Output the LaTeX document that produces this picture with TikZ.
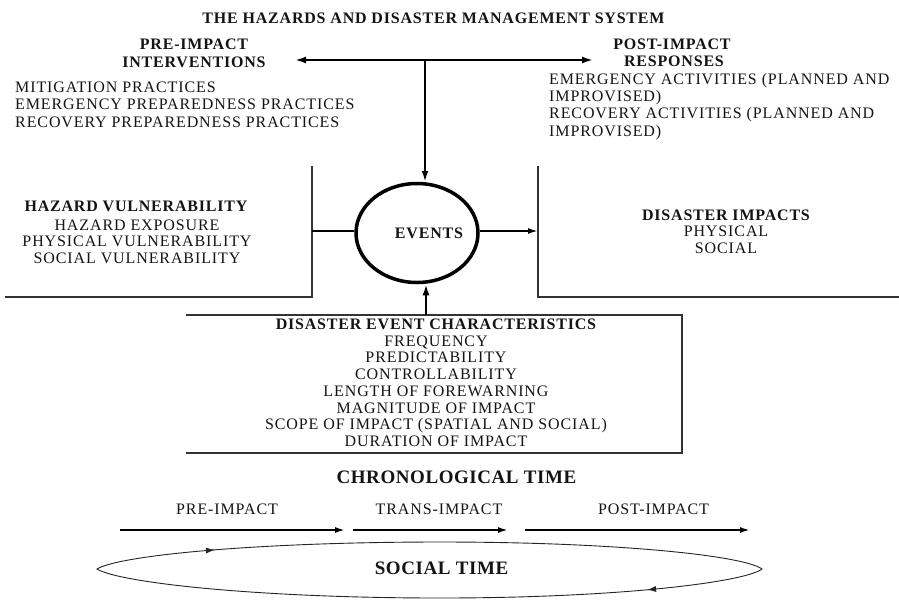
\documentclass[tikz,border=0pt]{standalone}
\usepackage{fontspec}
\setmainfont{Liberation Serif}
\newfontfamily\rfont[LetterSpace=5.6]{Liberation Serif}
\newfontfamily\hfont[LetterSpace=5]{Liberation Serif}
\newfontfamily\tfont[LetterSpace=3]{Liberation Serif}
\usetikzlibrary{arrows.meta,decorations.markings,shapes.geometric}
\begin{document}
\begin{tikzpicture}[x=1pt,y=-1pt,
 reg/.style={font=\rfont\fontsize{16}{17}\selectfont, inner sep=0pt, anchor=base, text=black!92},
 regl/.style={reg, anchor=base west},
 head/.style={font=\hfont\bfseries\fontsize{16}{17}\selectfont, inner sep=0pt, anchor=base, text=black!92},
 big/.style={font=\tfont\bfseries\fontsize{19}{22}\selectfont, inner sep=0pt, anchor=base, text=black!92},
 bigarrow/.style={line width=2pt, -{Latex[length=11pt,width=7pt]}},
 chrono/.style={line width=1.8pt, -{Latex[length=10pt,width=6pt]}},
 boxline/.style={line width=1.2pt, draw=black!80},
]
\fill[white] (0,0) rectangle (899,614);
\useasboundingbox (0,0) rectangle (899,614);

% title and top blocks
\node[head] (title) at (433.5,23) {THE HAZARDS AND DISASTER MANAGEMENT SYSTEM};
\node[head] (pre1) at (194,49.5) {PRE-IMPACT};
\node[head] (pre2) at (194,67) {INTERVENTIONS};
\node[regl] (m1) at (15,92) {MITIGATION PRACTICES};
\node[regl] (m2) at (15,109.5) {EMERGENCY PREPAREDNESS PRACTICES};
\node[regl] (m3) at (15,127) {RECOVERY PREPAREDNESS PRACTICES};

\node[head] (post1) at (672,49.3) {POST-IMPACT};
\node[head] (post2) at (674,66) {RESPONSES};
\node[regl] (r1) at (549,84.3) {EMERGENCY ACTIVITIES (PLANNED AND};
\node[regl] (r2) at (549,101) {IMPROVISED)};
\node[regl] (r3) at (549,118.3) {RECOVERY ACTIVITIES (PLANNED AND};
\node[regl] (r4) at (549,136) {IMPROVISED)};

% events
\node[draw, ellipse, line width=3.5pt, minimum width=122pt, minimum height=99pt, inner sep=0pt] (events) at (417,233) {};
\node[head] (evtext) at (429,238) {EVENTS};

% top connectors
\coordinate (lt) at (295,60);
\coordinate (rt) at (593,60);
\coordinate (hub) at (425,60);
\draw[line width=2pt, {Latex[length=11pt,width=7pt]}-{Latex[length=11pt,width=7pt]}] (lt) -- (rt);
\draw[bigarrow] (hub) -- (hub |- events.north);

% left box
\draw[boxline] (312,166) -- (312,297) -- (5,297);
\node[head] (hv) at (136,211.7) {HAZARD VULNERABILITY};
\node[reg] (hv1) at (137,230) {HAZARD EXPOSURE};
\node[reg] (hv2) at (137,246.7) {PHYSICAL VULNERABILITY};
\node[reg] (hv3) at (137,263) {SOCIAL VULNERABILITY};
\coordinate (lb) at (312,231);
\draw[line width=1.6pt] (lb) -- (lb -| events.west);

% right box
\draw[boxline] (538,166) -- (538,297) -- (899,297);
\node[head] (di) at (726,220) {DISASTER IMPACTS};
\node[reg] (di1) at (726,236.7) {PHYSICAL};
\node[reg] (di2) at (726,253.3) {SOCIAL};
\coordinate (rb) at (538,231);
\draw[line width=1.8pt, -{Latex[length=10pt,width=6pt]}] (rb -| events.east) -- (rb);

% bottom box
\draw[boxline] (186,315) -- (682,315) -- (682,453) -- (186,453);
\node[head] (dc) at (436,329.3) {DISASTER EVENT CHARACTERISTICS};
\node[reg] (dc1) at (436,346) {FREQUENCY};
\node[reg] (dc2) at (436,362.7) {PREDICTABILITY};
\node[reg] (dc3) at (436,379.5) {CONTROLLABILITY};
\node[reg] (dc4) at (436,396.3) {LENGTH OF FOREWARNING};
\node[reg] (dc5) at (436,413) {MAGNITUDE OF IMPACT};
\node[reg] (dc6) at (436,429.8) {SCOPE OF IMPACT (SPATIAL AND SOCIAL)};
\node[reg] (dc7) at (436,446.5) {DURATION OF IMPACT};
\coordinate (bt) at (426,315);
\draw[bigarrow] (bt) -- (bt |- events.south);

% chronological time
\node[big] (chrono) at (456.5,483) {CHRONOLOGICAL TIME};
\node[reg] (p1) at (227,514) {PRE-IMPACT};
\node[reg] (p2) at (439,514) {TRANS-IMPACT};
\node[reg] (p3) at (653.5,514) {POST-IMPACT};
\coordinate (a1s) at (120,530); \coordinate (a1e) at (345,530);
\coordinate (a2s) at (353,530); \coordinate (a2e) at (508,530);
\coordinate (a3s) at (525,530); \coordinate (a3e) at (750,530);
\draw[chrono] (a1s) -- (a1e);
\draw[chrono] (a2s) -- (a2e);
\draw[chrono] (a3s) -- (a3e);

% social time loop
\draw[line width=0.9pt, draw=black!85, postaction={decorate},
 decoration={markings,
   mark=at position 120pt with {\arrow{Latex[length=9pt,width=6pt]}},
   mark=at position 787pt with {\arrow{Latex[length=9pt,width=6pt]}}}]
 (97,569) .. controls (120,555) and (260,542) .. (440,542)
 .. controls (620,542) and (745,556) .. (762,569)
 .. controls (745,582) and (620,598) .. (440,598)
 .. controls (260,598) and (120,583) .. (97,569) -- cycle;
\node[big] (social) at (441.5,574) {SOCIAL TIME};
\end{tikzpicture}
\end{document}
